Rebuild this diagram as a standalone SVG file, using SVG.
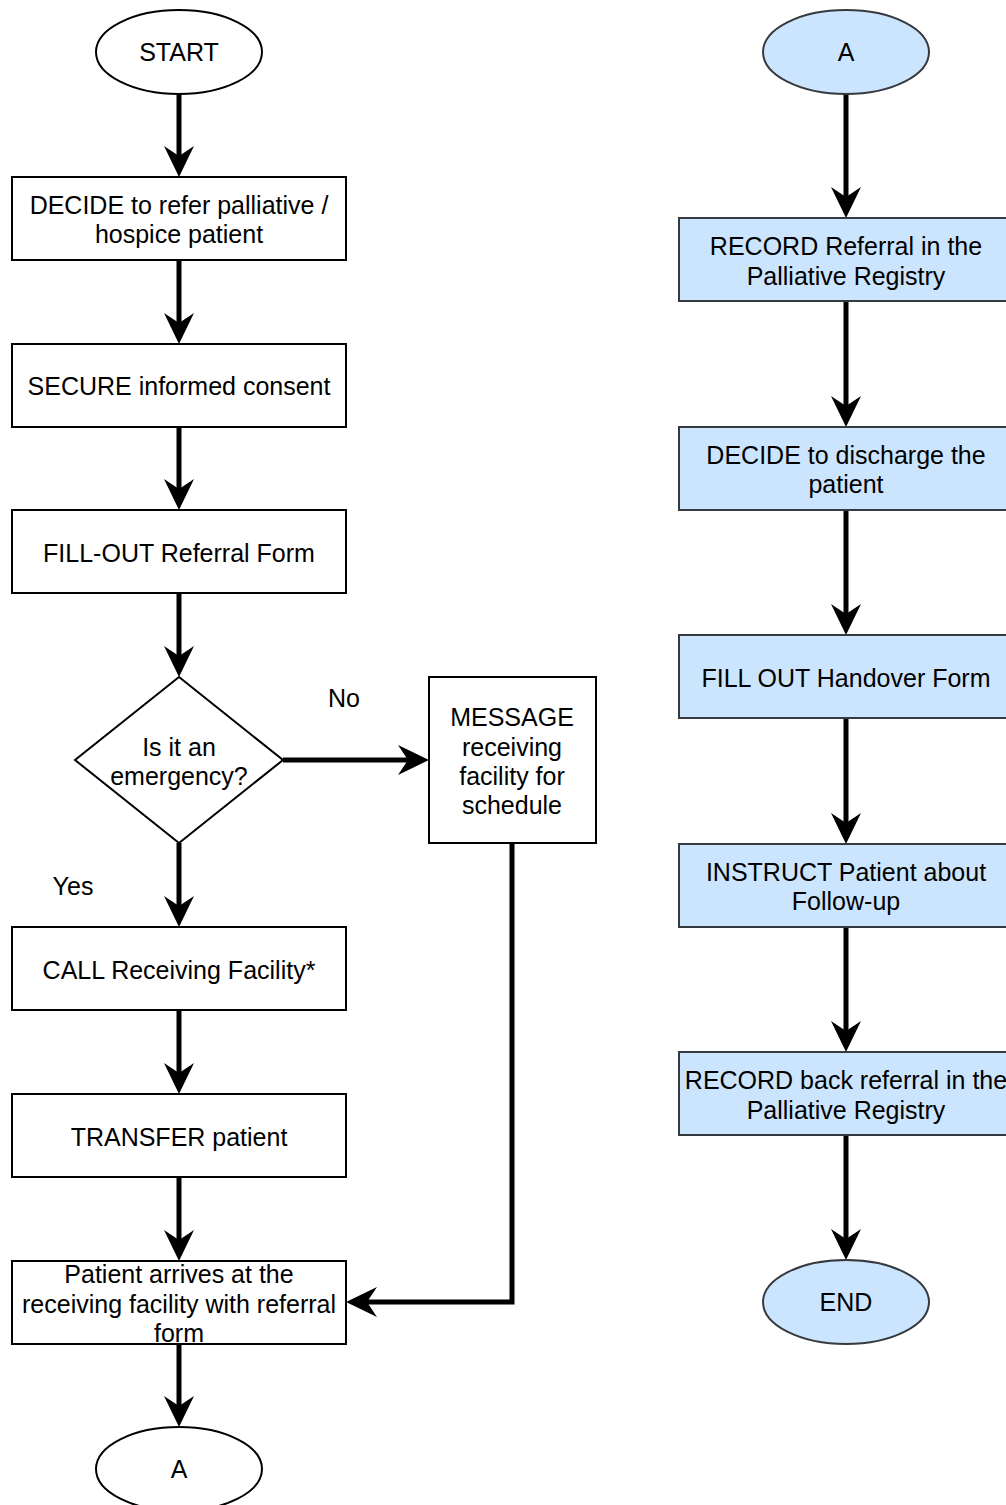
<svg xmlns="http://www.w3.org/2000/svg" width="1006" height="1505" viewBox="0 0 1006 1505">
  <style>
    .shape { fill: #ffffff; stroke: #000000; stroke-width: 2; }
    .blue { fill: #cce5ff; stroke: #36393d; stroke-width: 2; }
    .label { font-family: "Liberation Sans", Arial, Helvetica, sans-serif; font-size: 25px; fill: #000000; text-anchor: middle; }
    .edge { fill: none; stroke: #000000; stroke-width: 5; stroke-linejoin: miter; }
  </style>
  <defs>
    <marker id="arrow" viewBox="0 0 32 30" refX="11" refY="15" markerWidth="32" markerHeight="30" markerUnits="userSpaceOnUse" orient="auto">
      <path d="M0,0 L31,15 L0,30 L10,15 Z" fill="#000000"/>
    </marker>
  </defs>

  <!-- connectors -->
  <g id="connectors">
    <path class="edge" d="M179,94 V157" marker-end="url(#arrow)"/>
    <path class="edge" d="M179,260 V324" marker-end="url(#arrow)"/>
    <path class="edge" d="M179,427 V490" marker-end="url(#arrow)"/>
    <path class="edge" d="M179,593 V657" marker-end="url(#arrow)"/>
    <path class="edge" d="M179,843 V907" marker-end="url(#arrow)"/>
    <path class="edge" d="M283,760 H409" marker-end="url(#arrow)"/>
    <path class="edge" d="M179,1010 V1074" marker-end="url(#arrow)"/>
    <path class="edge" d="M179,1177 V1241" marker-end="url(#arrow)"/>
    <path class="edge" d="M512,843 V1302 H366" marker-end="url(#arrow)"/>
    <path class="edge" d="M179,1344 V1407" marker-end="url(#arrow)"/>

    <path class="edge" d="M846,94 V198" marker-end="url(#arrow)"/>
    <path class="edge" d="M846,301 V407" marker-end="url(#arrow)"/>
    <path class="edge" d="M846,510 V615" marker-end="url(#arrow)"/>
    <path class="edge" d="M846,718 V824" marker-end="url(#arrow)"/>
    <path class="edge" d="M846,927 V1032" marker-end="url(#arrow)"/>
    <path class="edge" d="M846,1135 V1240" marker-end="url(#arrow)"/>
  </g>

  <!-- edge labels -->
  <text class="label" x="344" y="707">No</text>
  <text class="label" x="73" y="895">Yes</text>

  <!-- left column -->
  <g id="start">
    <ellipse class="shape" cx="179" cy="52" rx="83" ry="42"/>
    <text class="label" x="179" y="61">START</text>
  </g>
  <g id="decide-refer">
    <rect class="shape" x="12" y="177" width="334" height="83"/>
    <text class="label" x="179" y="214">DECIDE to refer palliative /</text>
    <text class="label" x="179" y="243">hospice patient</text>
  </g>
  <g id="secure-consent">
    <rect class="shape" x="12" y="344" width="334" height="83"/>
    <text class="label" x="179" y="395">SECURE informed consent</text>
  </g>
  <g id="fill-referral">
    <rect class="shape" x="12" y="510" width="334" height="83"/>
    <text class="label" x="179" y="562">FILL-OUT Referral Form</text>
  </g>
  <g id="emergency">
    <polygon class="shape" points="179,677 283,760 179,843 75,760"/>
    <text class="label" x="179" y="756">Is it an</text>
    <text class="label" x="179" y="785">emergency?</text>
  </g>
  <g id="message">
    <rect class="shape" x="429" y="677" width="167" height="166"/>
    <text class="label" x="512" y="726">MESSAGE</text>
    <text class="label" x="512" y="756">receiving</text>
    <text class="label" x="512" y="785">facility for</text>
    <text class="label" x="512" y="814">schedule</text>
  </g>
  <g id="call-facility">
    <rect class="shape" x="12" y="927" width="334" height="83"/>
    <text class="label" x="179" y="979">CALL Receiving Facility*</text>
  </g>
  <g id="transfer">
    <rect class="shape" x="12" y="1094" width="334" height="83"/>
    <text class="label" x="179" y="1146">TRANSFER patient</text>
  </g>
  <g id="arrives">
    <rect class="shape" x="12" y="1261" width="334" height="83"/>
    <text class="label" x="179" y="1283">Patient arrives at the</text>
    <text class="label" x="179" y="1313">receiving facility with referral</text>
    <text class="label" x="179" y="1342">form</text>
  </g>
  <g id="connector-a-out">
    <ellipse class="shape" cx="179" cy="1469" rx="83" ry="42"/>
    <text class="label" x="179" y="1478">A</text>
  </g>

  <!-- right column -->
  <g id="connector-a-in">
    <ellipse class="blue" cx="846" cy="52" rx="83" ry="42"/>
    <text class="label" x="846" y="61">A</text>
  </g>
  <g id="record-referral">
    <rect class="blue" x="679" y="218" width="334" height="83"/>
    <text class="label" x="846" y="255">RECORD Referral in the</text>
    <text class="label" x="846" y="285">Palliative Registry</text>
  </g>
  <g id="decide-discharge">
    <rect class="blue" x="679" y="427" width="334" height="83"/>
    <text class="label" x="846" y="464">DECIDE to discharge the</text>
    <text class="label" x="846" y="493">patient</text>
  </g>
  <g id="fill-handover">
    <rect class="blue" x="679" y="635" width="334" height="83"/>
    <text class="label" x="846" y="687">FILL OUT Handover Form</text>
  </g>
  <g id="instruct-followup">
    <rect class="blue" x="679" y="844" width="334" height="83"/>
    <text class="label" x="846" y="881">INSTRUCT Patient about</text>
    <text class="label" x="846" y="910">Follow-up</text>
  </g>
  <g id="record-back-referral">
    <rect class="blue" x="679" y="1052" width="334" height="83"/>
    <text class="label" x="846" y="1089">RECORD back referral in the</text>
    <text class="label" x="846" y="1119">Palliative Registry</text>
  </g>
  <g id="end">
    <ellipse class="blue" cx="846" cy="1302" rx="83" ry="42"/>
    <text class="label" x="846" y="1311">END</text>
  </g>
</svg>
